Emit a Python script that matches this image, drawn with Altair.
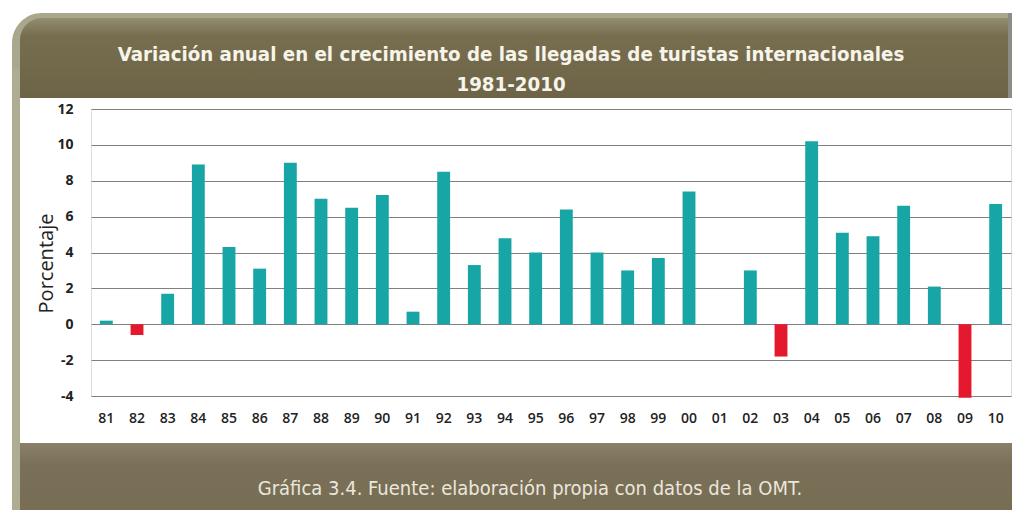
import altair as alt
import pandas as pd

years = ["81", "82", "83", "84", "85", "86", "87", "88", "89", "90",
         "91", "92", "93", "94", "95", "96", "97", "98", "99", "00",
         "01", "02", "03", "04", "05", "06", "07", "08", "09", "10"]
values = [0.2, -0.6, 1.7, 8.9, 4.3, 3.1, 9.0, 7.0, 6.5, 7.2,
          0.7, 8.5, 3.3, 4.8, 4.0, 6.4, 4.0, 3.0, 3.7, 7.4,
          0.0, 3.0, -1.8, 10.2, 5.1, 4.9, 6.6, 2.1, -4.1, 6.7]
y_ticks = [-4, -2, 0, 2, 4, 6, 8, 10, 12]

title_lines = ["Variación anual en el crecimiento de las llegadas de turistas internacionales",
               "1981-2010"]
footer = "Gráfica 3.4. Fuente: elaboración propia con datos de la OMT."
y_title = "Porcentaje"

TEAL = "#18a5a6"
RED = "#e5192e"
COND = "'DejaVu Sans Condensed', 'DejaVu Sans', sans-serif"

df = pd.DataFrame({"year": years, "value": values})
df["signo"] = ["pos" if v >= 0 else "neg" for v in values]

one = pd.DataFrame({"a": [0]})


def deco(x, x2, y, y2, color, **kw):
    return alt.Chart(one).mark_rect(color=color, **kw).encode(
        x=alt.value(x), x2=alt.value(x2), y=alt.value(y), y2=alt.value(y2))


outer = deco(-79, 921, -96, -11, "#a9a78d", cornerRadiusTopLeft=30)
left_strip = deco(-79, -71, -40, 409, "#aeac93")
top_band = deco(-71, 917, -91, -11, alt.Gradient(
    gradient="linear", x1=0, y1=0, x2=0, y2=1,
    stops=[alt.GradientStop(color="#948d70", offset=0),
           alt.GradientStop(color="#776e50", offset=0.22),
           alt.GradientStop(color="#6d6447", offset=1)]), cornerRadiusTopLeft=22)
right_stripe = deco(917, 921, -96, -11, "#8c8b86")
bottom_band = deco(-71, 921, 334, 409, alt.Gradient(
    gradient="linear", x1=0, y1=0, x2=0, y2=1,
    stops=[alt.GradientStop(color="#8a8069", offset=0),
           alt.GradientStop(color="#7a7057", offset=0.3),
           alt.GradientStop(color="#776d55", offset=1)]))

bars = alt.Chart(df).mark_bar().encode(
    x=alt.X("year:N", sort=years,
            scale=alt.Scale(paddingInner=0.58, paddingOuter=0.29),
            axis=alt.Axis(title=None, labelAngle=0, domain=False, ticks=False,
                          labelPadding=15, labelFont="Open Sans", labelFontSize=14,
                          labelFontWeight=600, labelColor="#222222")),
    y=alt.Y("value:Q", scale=alt.Scale(domain=[-4, 12], nice=False, zero=True),
            axis=alt.Axis(values=y_ticks, title=y_title, grid=True, gridColor="#808080",
                          gridWidth=1, domain=False, ticks=False, labelPadding=18,
                          labelExpr="'' + datum.value",
                          labelFont="Open Sans", labelFontSize=14, labelFontWeight="bold",
                          labelColor="#222222", titleFont="Open Sans", titleFontSize=20,
                          titleFontWeight="normal", titleColor="#222222",
                          titleX=-45, titleY=154, titleBaseline="middle", titleAngle=270)),
    color=alt.Color("signo:N", scale=alt.Scale(domain=["pos", "neg"], range=[TEAL, RED]),
                    legend=None),
)

t1 = alt.Chart(pd.DataFrame({"t": [title_lines[0]]})).mark_text(
    font=COND, fontWeight="bold", fontSize=20.3, color="#f7f4ea",
    align="center", baseline="alphabetic").encode(
    text="t:N", x=alt.value(420), y=alt.value(-48))
t2 = alt.Chart(pd.DataFrame({"t": [title_lines[1]]})).mark_text(
    font=COND, fontWeight="bold", fontSize=20.3, color="#f7f4ea",
    align="center", baseline="alphabetic").encode(
    text="t:N", x=alt.value(420), y=alt.value(-18))
ft = alt.Chart(pd.DataFrame({"t": [footer]})).mark_text(
    font=COND, fontSize=20, color="#ebe7dc",
    align="center", baseline="alphabetic").encode(
    text="t:N", x=alt.value(439), y=alt.value(386))

chart = alt.layer(outer, left_strip, top_band, right_stripe, bottom_band, bars, t1, t2, ft).properties(
    width=920, height=287,
    padding={"left": 83, "top": 101, "right": 1, "bottom": 114},
    autosize=alt.AutoSizeParams(type="none"),
).configure_view(stroke="#808080", strokeWidth=1).configure(background="#ffffff")

chart.save("out.html", embed_options={"renderer": "svg", "actions": False})
